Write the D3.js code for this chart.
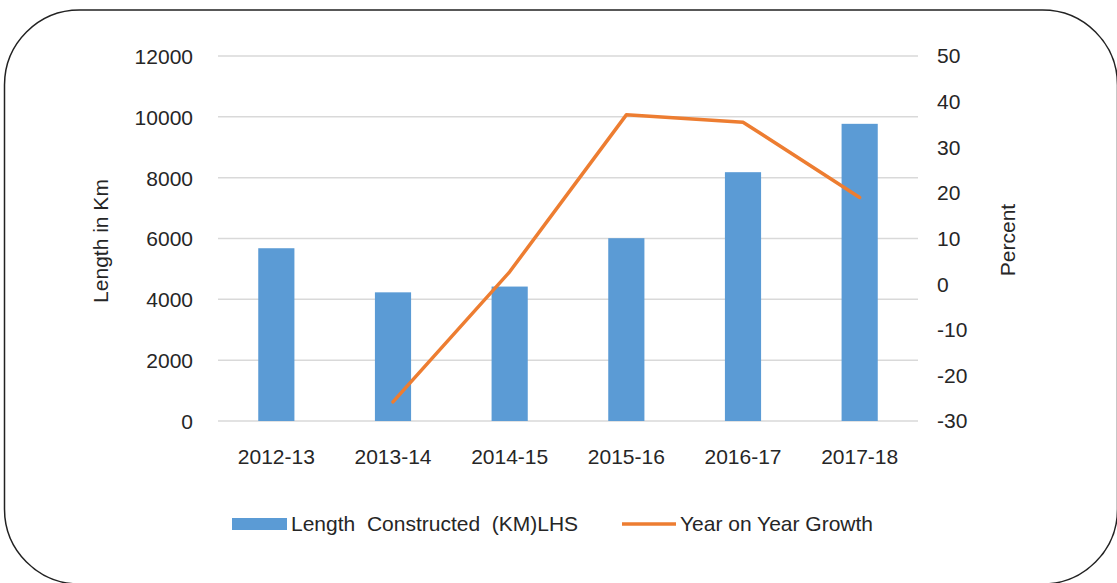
<!DOCTYPE html>
<html>
<head>
<meta charset="utf-8">
<script src="https://cdn.jsdelivr.net/npm/d3@7"></script>
<style>
  body { margin: 0; background: #fff; }
  svg text { font-family: "Liberation Sans", Arial, sans-serif; fill: #262626; }
</style>
</head>
<body>
<svg id="chart" width="1117" height="583"></svg>
<script>
// data
const years = ["2012-13", "2013-14", "2014-15", "2015-16", "2016-17", "2017-18"]
const lengthKm = [5680, 4230, 4420, 6010, 8180, 9770]
const growthPct = [null, -25.8, 2.7, 37.1, 35.5, 19.0]
const leftTicks = [0, 2000, 4000, 6000, 8000, 10000, 12000]
const rightTicks = [-30, -20, -10, 0, 10, 20, 30, 40, 50]

const W = 1117, H = 583
const plot = {left: 218, right: 918, top: 56, bottom: 421}
const fontSize = 21
const plain = d => String(d) // plain hyphen minus, no thousands comma

const svg = d3.select("#chart")

// rounded frame
svg.append("rect")
  .attr("x", 4.5).attr("y", 10)
  .attr("width", 1113).attr("height", 574)
  .attr("rx", 75).attr("ry", 75)
  .attr("fill", "#fff")
  .attr("stroke", "#222")
  .attr("stroke-width", 1.5)

let x = d3.scaleBand()
  .domain(years)
  .range([plot.left, plot.right])
  .padding(0)
let y = d3.scaleLinear()
  .domain([0, 12000])
  .range([plot.bottom, plot.top])
let y2 = d3.scaleLinear()
  .domain([-30, 50])
  .range([plot.bottom, plot.top])

// gridlines (left axis)
svg.append("g").selectAll("line")
  .data(leftTicks)
  .enter().append("line")
    .attr("x1", plot.left).attr("x2", plot.right)
    .attr("y1", d => y(d)).attr("y2", d => y(d))
    .attr("stroke", "#d9d9d9")
    .attr("stroke-width", 1.5)

// left axis labels
let yAxis = d3.axisLeft(y).tickValues(leftTicks).tickFormat(plain).tickSize(0).tickPadding(0)
svg.append("g")
  .attr("transform", "translate(193,0)")
  .call(yAxis)
  .call(g => g.select(".domain").remove())
  .selectAll("text")
    .style("font-size", fontSize + "px")
    .attr("dy", "0.35em")

// right axis labels
let yAxisR = d3.axisRight(y2).tickValues(rightTicks).tickFormat(plain).tickSize(0).tickPadding(0)
svg.append("g")
  .attr("transform", "translate(937,0)")
  .call(yAxisR)
  .call(g => g.select(".domain").remove())
  .selectAll("text")
    .style("font-size", fontSize + "px")
    .attr("dy", "0.33em")

// x axis labels
let xAxis = d3.axisBottom(x).tickSize(0).tickPadding(0)
svg.append("g")
  .attr("transform", "translate(0,453)")
  .call(xAxis)
  .call(g => g.select(".domain").remove())
  .selectAll("text")
    .style("font-size", fontSize + "px")
    .attr("dy", "0.5em")

// bars
const barW = x.bandwidth() * 0.31
svg.append("g").selectAll("rect")
  .data(years)
  .enter().append("rect")
    .attr("x", d => x(d) + x.bandwidth() / 2 - barW / 2)
    .attr("y", (d, i) => y(lengthKm[i]))
    .attr("width", barW)
    .attr("height", (d, i) => y(0) - y(lengthKm[i]))
    .attr("fill", "#5B9BD5")

// growth line
let line = d3.line()
  .defined(d => d.v != null)
  .x(d => x(d.year) + x.bandwidth() / 2)
  .y(d => y2(d.v))
svg.append("path")
  .datum(years.map((yr, i) => ({year: yr, v: growthPct[i]})))
  .attr("d", line)
  .attr("fill", "none")
  .attr("stroke", "#ED7D31")
  .attr("stroke-width", 3.5)
  .attr("stroke-linejoin", "round")
  .attr("stroke-linecap", "round")

// axis titles
svg.append("text")
  .attr("transform", "translate(108,241) rotate(-90)")
  .attr("text-anchor", "middle")
  .style("font-size", fontSize + "px")
  .text("Length in Km")
svg.append("text")
  .attr("transform", "translate(1015,240) rotate(-90)")
  .attr("text-anchor", "middle")
  .style("font-size", fontSize + "px")
  .text("Percent")

// legend
const legY = 524
svg.append("rect")
  .attr("x", 232).attr("y", legY - 6)
  .attr("width", 55).attr("height", 12)
  .attr("fill", "#5B9BD5")
svg.append("text")
  .attr("x", 291).attr("y", legY)
  .attr("dy", "0.35em")
  .style("font-size", fontSize + "px")
  .style("white-space", "pre")
  .text("Length  Constructed  (KM)LHS")
svg.append("line")
  .attr("x1", 622).attr("x2", 676)
  .attr("y1", legY).attr("y2", legY)
  .attr("stroke", "#ED7D31")
  .attr("stroke-width", 3.5)
svg.append("text")
  .attr("x", 680).attr("y", legY)
  .attr("dy", "0.35em")
  .style("font-size", fontSize + "px")
  .text("Year on Year Growth")
</script>
</body>
</html>
